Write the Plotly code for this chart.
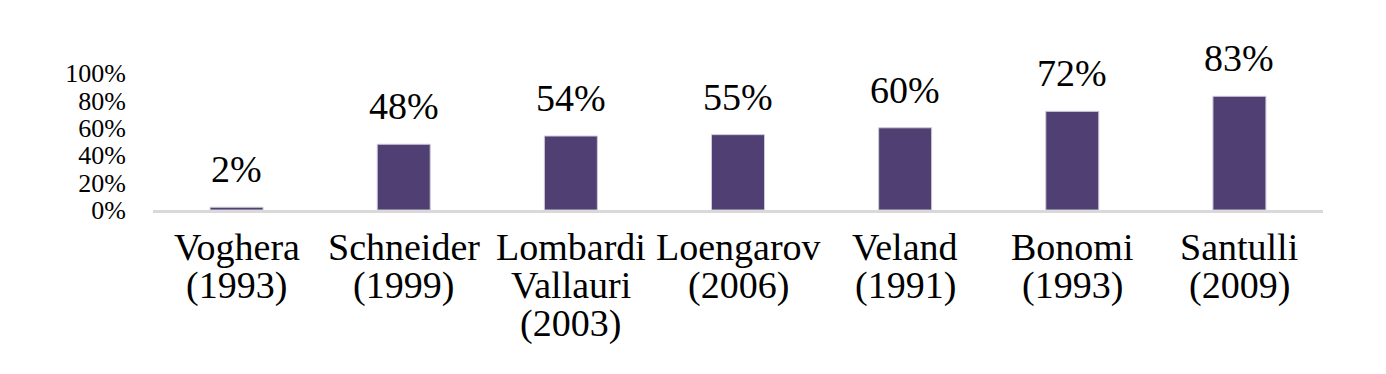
import plotly.graph_objects as go

categories = ["Voghera<br>(1993)", "Schneider<br>(1999)", "Lombardi<br>Vallauri<br>(2003)",
              "Loengarov<br>(2006)", "Veland<br>(1991)", "Bonomi<br>(1993)", "Santulli<br>(2009)"]
values = [2, 48, 54, 55, 60, 72, 83]
tick_vals = [0, 20, 40, 60, 80, 100]
tick_text = ["0%", "20%", "40%", "60%", "80%", "100%"]

font = "Liberation Serif"

fig = go.Figure()
fig.add_trace(go.Bar(
    x=categories, y=values, width=0.317,
    marker=dict(color="#4f3f72", line=dict(color="#cfcad9", width=1)),
    cliponaxis=False,
))
for c, v in zip(categories, values):
    fig.add_annotation(x=c, y=v, text=f"{v}%", showarrow=False, yanchor="bottom",
                       yshift=15, font=dict(family=font, size=38, color="black"))
    for i, line in enumerate(c.split("<br>")):
        fig.add_annotation(x=c, y=0, text=line, showarrow=False, yanchor="top",
                           yshift=-14 - 38 * i, font=dict(family=font, size=38, color="black"))

fig.update_layout(
    width=1386, height=374,
    margin=dict(l=145, r=71, t=65, b=172),
    plot_bgcolor="white", paper_bgcolor="white",
    showlegend=False,
    font=dict(family=font, color="black"),
)
fig.update_xaxes(showline=True, linecolor="#d9d9d9", linewidth=3, ticks="",
                 showticklabels=False, showgrid=False, automargin=False)
fig.update_yaxes(range=[0, 100], tickvals=tick_vals, ticktext=tick_text, showgrid=False,
                 zeroline=False, showline=False, automargin=False,
                 tickfont=dict(family=font, size=26, color="black"), ticklabelstandoff=26)
fig.write_html("out.html")
